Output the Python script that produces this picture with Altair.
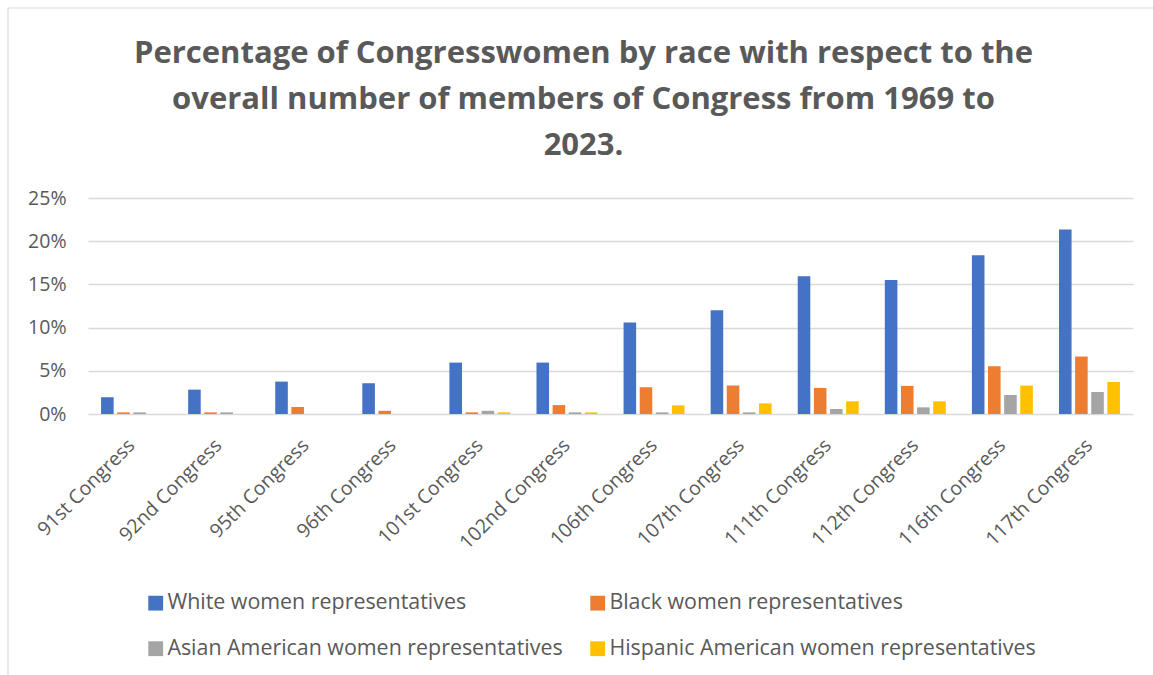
import altair as alt
import pandas as pd

congresses = ["91st Congress", "92nd Congress", "95th Congress", "96th Congress",
              "101st Congress", "102nd Congress", "106th Congress", "107th Congress",
              "111th Congress", "112th Congress", "116th Congress", "117th Congress"]
series_names = ["White women representatives", "Black women representatives",
                "Asian American women representatives", "Hispanic American women representatives"]
white = [1.94, 2.82, 3.75, 3.56, 5.95, 5.95, 10.6, 12.0, 15.93, 15.5, 18.37, 21.35]
black = [0.19, 0.19, 0.81, 0.37, 0.19, 1.03, 3.1, 3.3, 3.02, 3.25, 5.53, 6.65]
asian = [0.19, 0.19, 0.0, 0.0, 0.37, 0.19, 0.19, 0.19, 0.58, 0.77, 2.2, 2.55]
hispanic = [0.0, 0.0, 0.0, 0.0, 0.19, 0.19, 1.0, 1.23, 1.47, 1.47, 3.29, 3.71]
colors = ["#4472C4", "#ED7D31", "#A5A5A5", "#FFC000"]
y_ticks = [0, 5, 10, 15, 20, 25]

rows = []
for name, vals in zip(series_names, [white, black, asian, hispanic]):
    for c, v in zip(congresses, vals):
        rows.append({"congress": c, "series": name, "value": v})
df = pd.DataFrame(rows)

TXT = "#595959"
FONT = "Open Sans"

bars = alt.Chart(df).mark_bar().encode(
    x=alt.X("congress:N", sort=congresses,
            scale=alt.Scale(paddingInner=0.3, paddingOuter=0.15),
            axis=alt.Axis(title=None, labelAngle=-45, labelAlign="right", labelBaseline="middle",
                          labelFontSize=19.5, labelFont=FONT, labelColor=TXT, labelPadding=28,
                          domain=False, ticks=False, labelOverlap=False)),
    xOffset=alt.XOffset("series:N", sort=series_names,
                        scale=alt.Scale(paddingInner=0.22, paddingOuter=0)),
    y=alt.Y("value:Q", scale=alt.Scale(domain=[0, 25], nice=False),
            axis=alt.Axis(title=None, values=y_ticks, labelExpr="datum.value + '%'",
                          domain=False, ticks=False, labelFontSize=19.5, labelFont=FONT,
                          labelColor=TXT, labelPadding=22, gridColor="#d9d9d9", gridWidth=1.3)),
    color=alt.Color("series:N", sort=series_names,
                    scale=alt.Scale(domain=series_names, range=colors),
                    legend=alt.Legend(title=None, orient="none", legendX=57, legendY=394,
                                      direction="horizontal", columns=2, columnPadding=24,
                                      rowPadding=23,
                                      symbolType="square", symbolSize=220, symbolStrokeWidth=0,
                                      labelFontSize=21.4, labelFont=FONT, labelColor=TXT,
                                      labelOffset=1, labelLimit=600)),
)

border = alt.Chart(pd.DataFrame({"a": [0]})).mark_rect(
    fill=None, stroke="#d9d9d9", strokeWidth=1.2
).encode(x=alt.value(-80), x2=alt.value(1090), y=alt.value(-190), y2=alt.value(500))

chart = alt.layer(border, bars).properties(
    width=1045, height=216,
    title=alt.TitleParams(
        text=["Percentage of Congresswomen by race with respect to the",
              "overall number of members of Congress from 1969 to",
              "2023."],
        font=FONT, fontSize=31, fontWeight="bold", color=TXT, anchor="middle",
        dx=-27, lineHeight=46, offset=-155),
    autosize=alt.AutoSizeParams(type="none"),
    padding={"left": 88, "top": 198, "right": 20, "bottom": 261},
).configure(background="white").configure_view(stroke=None)

chart.save("out.html", embed_options={"renderer": "svg", "actions": False})
